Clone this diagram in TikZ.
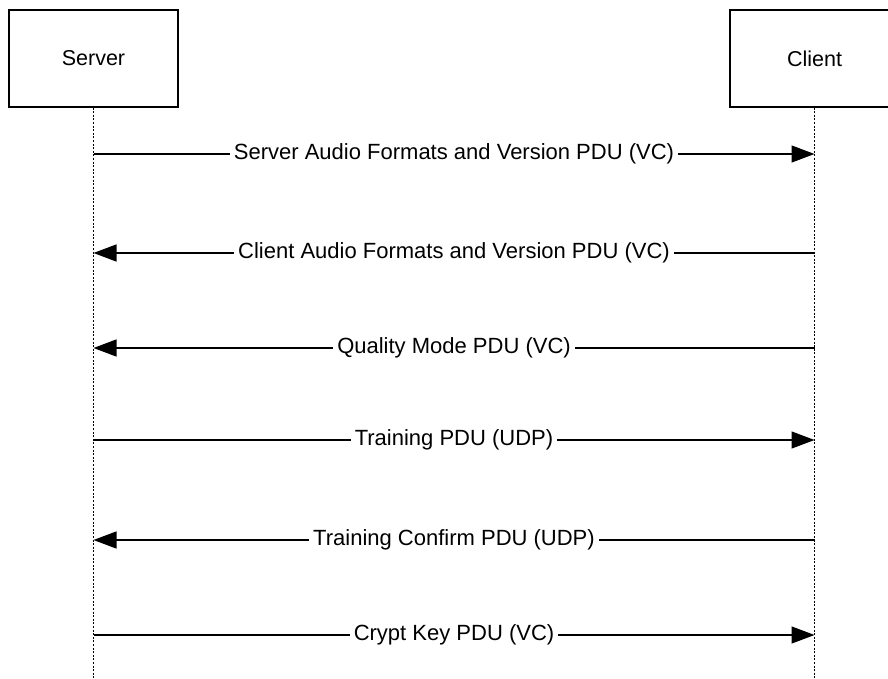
\documentclass[tikz,border=0pt]{standalone}
\usepackage{fontspec}
\setmainfont{Liberation Sans}
\usetikzlibrary{arrows.meta}
\tikzset{
  actor/.style={draw, line width=1.2pt, minimum width=169, minimum height=97, inner sep=0pt, font=\fontsize{21.5}{24}\selectfont},
  lifeline/.style={line width=1.3pt, dash pattern=on 2pt off 1.6pt},
  msg/.style={line width=1.3pt, -{Triangle[length=23pt,width=17pt]}},
  msglabel/.style={fill=white, inner sep=4pt, font=\fontsize{22}{24}\selectfont}
}
\begin{document}
\begin{tikzpicture}[x=1pt,y=-1pt]
\useasboundingbox (0,0) rectangle (888,679);
\clip (0,0) rectangle (888,679);
% participants
\node[actor] (server) at (93.5,58.5) {Server};
\node[actor] (client) at (814.5,58.5) {Client};
\coordinate (serverEnd) at (93.5,679);
\coordinate (clientEnd) at (814.5,679);
\draw [lifeline] (server.south) -- (serverEnd);
\draw [lifeline] (client.south) -- (clientEnd);
% messages
\foreach \i/\y/\txt in {1/154/Server Audio Formats and Version PDU (VC),
                        4/440/Training PDU (UDP),
                        6/635/Crypt Key PDU (VC)}{
  \coordinate (s\i) at (93.5,\y);
  \coordinate (c\i) at (814.5,\y);
  \draw [msg] (s\i) -- node[msglabel] {\txt} (c\i);
}
\foreach \i/\y/\txt in {2/253/Client Audio Formats and Version PDU (VC),
                        3/348/Quality Mode PDU (VC),
                        5/540/Training Confirm PDU (UDP)}{
  \coordinate (s\i) at (93.5,\y);
  \coordinate (c\i) at (814.5,\y);
  \draw [msg] (c\i) -- node[msglabel] {\txt} (s\i);
}
\end{tikzpicture}
\end{document}
